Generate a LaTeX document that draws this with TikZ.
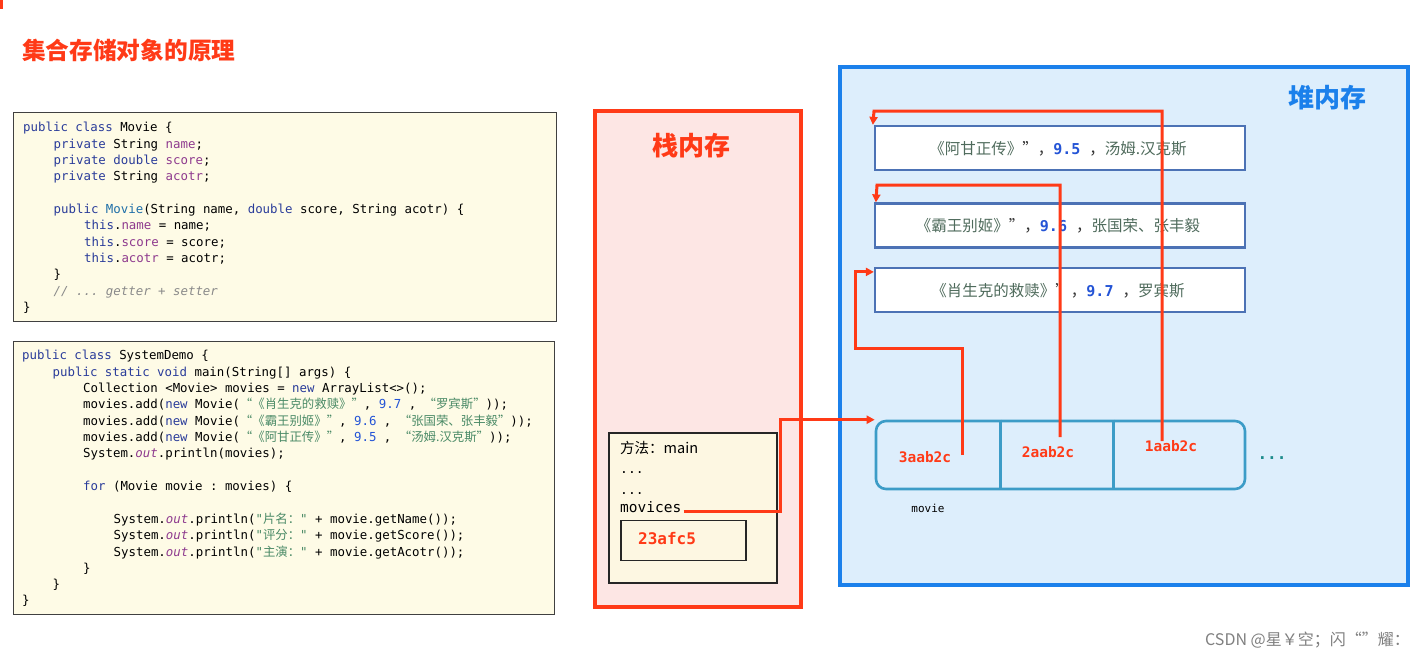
\documentclass[tikz,border=0pt]{standalone}
\usepackage{fontspec}
\setmainfont{DejaVu Sans}
\setmonofont{DejaVu Sans Mono}
\newfontfamily\cjkf{Noto Sans CJK SC}
\usetikzlibrary{arrows.meta,calc}
\definecolor{redA}{HTML}{FF3A17}
\definecolor{kwc}{HTML}{2A3C9A}
\definecolor{fdc}{HTML}{8E3A8E}
\definecolor{mtc}{HTML}{1F6FA8}
\definecolor{strc}{HTML}{4A8A66}
\definecolor{numc}{HTML}{2454D6}
\definecolor{cmtc}{HTML}{8A8A8A}
\definecolor{codebg}{HTML}{FEFBE6}
\definecolor{stackbg}{HTML}{FDE6E4}
\definecolor{heapbg}{HTML}{DDEEFC}
\definecolor{heapbd}{HTML}{1B80EB}
\definecolor{objbd}{HTML}{4C72B5}
\definecolor{arrbd}{HTML}{3C9CC7}
\definecolor{framebg}{HTML}{FDF7E2}
\definecolor{objstr}{HTML}{4F6B5C}
\definecolor{dotc}{HTML}{1E8C8C}
\newcommand\CK[1]{\textcolor{kwc}{#1}}
\newcommand\CF[1]{\textcolor{fdc}{#1}}
\newcommand\CM[1]{\textcolor{mtc}{#1}}
\newcommand\CS[1]{\textcolor{strc}{#1}}
\newcommand\CN[1]{\textcolor{numc}{#1}}
\newcommand\CC[1]{\textcolor{cmtc}{\itshape #1}}
\newcommand\CO{\textcolor{fdc}{\itshape out}}
\newcommand\zh[1]{{\cjkf #1}}
\newcommand\codefont{\ttfamily\fontsize{12.4}{14}\selectfont}
\begin{document}
\begin{tikzpicture}[x=1pt,y=-1pt,
  code/.style={anchor=base west, inner sep=0pt, font=\codefont},
  codebox/.style={draw=black!75, line width=1pt, fill=codebg},
  ref/.style={draw=redA, line width=3pt, -{Triangle[length=8pt,width=8pt]}},
  objbox/.style={draw=objbd, line width=2.2pt, fill=white, minimum width=370pt, minimum height=44pt, inner sep=0pt},
  objtxt/.style={font=\cjkf\fontsize{15.5}{18}\selectfont, text=objstr},
  addr/.style={font=\ttfamily\bfseries\fontsize{14.5}{16}\selectfont, text=redA, inner sep=0pt},
  bigtitle/.style={font=\cjkf\bfseries\fontsize{26}{30}\selectfont, inner sep=0pt}
]
\useasboundingbox (0,0) rectangle (1422,659);
\fill[white] (0,0) rectangle (1422,659);
\fill[redA] (0,0) rectangle (2.5,9);

% title
\node[font=\cjkf\bfseries\fontsize{23.7}{26}\selectfont, text=redA, anchor=west, inner sep=0pt] (title) at (22,50) {集合存储对象的原理};

% code box 1
\draw[codebox] (13,112) rectangle (556,321);
\node[code] (a1) at (23,131.5) {\CK{public} \CK{class} Movie \{};
\node[code] (a2) at (53.5,148) {\CK{private} String \CF{name};};
\node[code] (a3) at (53.5,164.5) {\CK{private} \CK{double} \CF{score};};
\node[code] (a4) at (53.5,180.5) {\CK{private} String \CF{acotr};};
\node[code] (a5) at (53.5,213) {\CK{public} \CM{Movie}(String name, \CK{double} score, String acotr) \{};
\node[code] (a6) at (84,229.5) {\CK{this}.\CF{name} = name;};
\node[code] (a7) at (84,246) {\CK{this}.\CF{score} = score;};
\node[code] (a8) at (84,262) {\CK{this}.\CF{acotr} = acotr;};
\node[code] (a9) at (53.5,278.5) {\}};
\node[code] (a10) at (53.5,295) {\CC{// ... getter + setter}};
\node[code] (a11) at (23,311) {\}};

% code box 2
\draw[codebox] (13,341) rectangle (554,614);
\node[code] (b1) at (22,359.5) {\CK{public} \CK{class} SystemDemo \{};
\node[code] (b2) at (52.5,376.5) {\CK{public} \CK{static} \CK{void} main(String[] args) \{};
\node[code] (b3) at (83,392.5) {Collection <Movie> movies = \CK{new} ArrayList<>();};
\node[code] (b4) at (83,408.5) {movies.add(\CK{new} Movie(\CS{\zh{“《肖生克的救赎》”}}, \CN{9.7} ,  \CS{\zh{“罗宾斯”}}));};
\node[code] (b5) at (83,425.5) {movies.add(\CK{new} Movie(\CS{\zh{“《霸王别姬》”}}, \CN{9.6} ,  \CS{\zh{“张国荣、张丰毅”}}));};
\node[code] (b6) at (83,441.5) {movies.add(\CK{new} Movie(\CS{\zh{“《阿甘正传》”}}, \CN{9.5} ,  \CS{\zh{“汤姆.汉克斯”}}));};
\node[code] (b7) at (83,457.5) {System.\CO.println(movies);};
\node[code] (b8) at (83,490.5) {\CK{for} (Movie movie : movies) \{};
\node[code] (b9) at (113.5,523.5) {System.\CO.println(\CS{"\zh{片名：}"} + movie.getName());};
\node[code] (b10) at (113.5,539.5) {System.\CO.println(\CS{"\zh{评分：}"} + movie.getScore());};
\node[code] (b11) at (113.5,556.5) {System.\CO.println(\CS{"\zh{主演：}"} + movie.getAcotr());};
\node[code] (b12) at (83,572.5) {\}};
\node[code] (b13) at (52.5,588.5) {\}};
\node[code] (b14) at (22,604.5) {\}};

% stack
\draw[draw=redA, line width=3.2pt, fill=stackbg] (595,111) rectangle (801,607);
\node[bigtitle, text=redA] (stk) at (691,146) {栈内存};
\draw[draw=black!85, line width=1.2pt, fill=framebg] (609,433) rectangle (777,583);
\node[anchor=west, inner sep=0pt, font=\cjkf\fontsize{14.5}{17}\selectfont] (fm) at (620,448) {方法：main};
\node[anchor=base west, inner sep=0pt, font=\ttfamily\fontsize{13}{15}\selectfont] (d1) at (620,473) {...};
\node[anchor=base west, inner sep=0pt, font=\ttfamily\fontsize{13}{15}\selectfont] (d2) at (620,494) {...};
\node[anchor=base west, inner sep=0pt, font=\ttfamily\fontsize{14.5}{16}\selectfont] (mv) at (620,512) {movices};
\node[draw=black!85, line width=1.2pt, minimum width=125pt, minimum height=40pt, inner sep=0pt] (vbox) at (683.5,540.5) {};
\node[addr, font=\ttfamily\bfseries\fontsize{16}{18}\selectfont, anchor=west] (val) at (638,539) {23afc5};

% heap
\draw[draw=heapbd, line width=3.2pt, fill=heapbg] (840,67) rectangle (1408,585);
\node[bigtitle, text=heapbd] (hp) at (1327,98) {堆内存};

\node[objbox] (o1) at (1060,148) {};
\node[objtxt] (t1) at (1058,149) {《阿甘正传》\textcolor{black!80}{”，}\textcolor{numc}{\ttfamily\bfseries\fontsize{15}{17}\selectfont 9.5 }\textcolor{black!80}{，}汤姆.汉克斯};
\node[objbox] (o2) at (1060,225.5) {};
\node[objtxt] (t2) at (1058,226) {《霸王别姬》\textcolor{black!80}{”，}\textcolor{numc}{\ttfamily\bfseries\fontsize{15}{17}\selectfont 9.6 }\textcolor{black!80}{，}张国荣、张丰毅};
\node[objbox] (o3) at (1060,290) {};
\node[objtxt] (t3) at (1058,290.5) {《肖生克的救赎》\textcolor{black!80}{”，}\textcolor{numc}{\ttfamily\bfseries\fontsize{15}{17}\selectfont 9.7 }\textcolor{black!80}{，}罗宾斯};

% array
\node[draw=arrbd, line width=2.6pt, rounded corners=10pt, fill=heapbg, minimum width=369pt, minimum height=68pt, inner sep=0pt] (arr) at (1060.5,455) {};
\draw[draw=arrbd, line width=2.6pt] ($(arr.north west)+(126,0)$) -- ($(arr.south west)+(126,0)$);
\draw[draw=arrbd, line width=2.6pt] ($(arr.north west)+(239,0)$) -- ($(arr.south west)+(239,0)$);
\node[addr] (c3) at (925,457) {3aab2c};
\node[addr] (c2) at (1048,452) {2aab2c};
\node[addr] (c1) at (1171,446) {1aab2c};
\node[font=\ttfamily\bfseries\fontsize{16}{18}\selectfont, text=dotc, inner sep=0pt] (more) at (1272,458) {...};
\node[font=\ttfamily\fontsize{11}{13}\selectfont, inner sep=0pt] (lbl) at (928,508) {movie};

% references
\coordinate (mvend) at ($(mv.base east)+(2,-1)$);
\coordinate (s3) at (962,455);
\coordinate (s2) at (1060,437);
\coordinate (s1) at (1162,441);
\draw[ref] (mvend) -| ($(arr.north west)+(-94,0)$) -- (arr.north west);
\draw[ref] (s3) |- (855,348) |- ($(o3.north west)+(0,5)$);
\draw[ref] (s2) |- (877,185) -- ($(o2.north west)+(2,0)$);
\draw[ref] (s1) |- (874,111) -- ($(o1.north west)+(-1,0)$);

% watermark
\node[font=\cjkf\fontsize{16}{18}\selectfont, text=black!50, anchor=east, inner sep=0pt] (wm) at (1410,640) {CSDN @星￥空；闪“”耀：};
\end{tikzpicture}
\end{document}
